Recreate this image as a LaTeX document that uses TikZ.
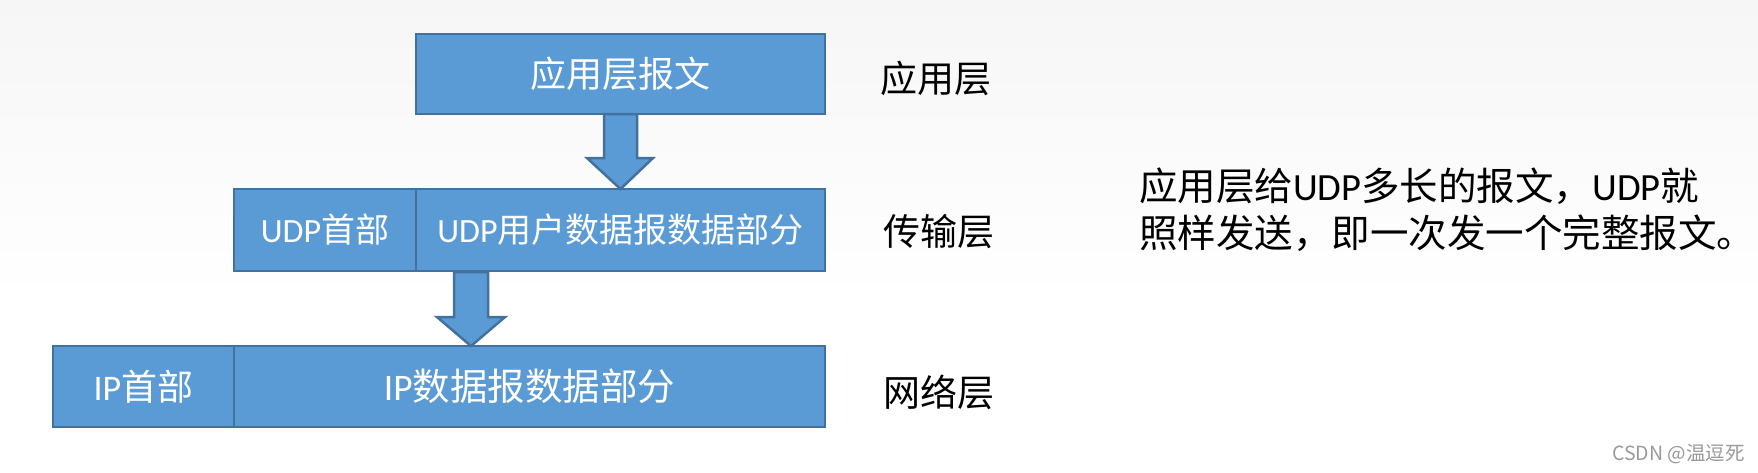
\documentclass[tikz,border=0pt]{standalone}
\usepackage{fontspec}
\setmainfont{Noto Sans CJK SC}
\newfontfamily\cjk{Noto Sans CJK SC}
\newfontfamily\lat{Carlito}
\usetikzlibrary{calc}
\definecolor{boxfill}{HTML}{5B9BD5}
\definecolor{boxline}{HTML}{41719C}
\definecolor{bgtop}{HTML}{F6F6F6}
\definecolor{wm}{HTML}{9A9A9A}
\tikzset{
  cell/.style={draw=boxline, fill=boxfill, line width=2.5pt, inner sep=0pt, outer sep=0pt,
    text=white, font=\fontsize{34}{40}\selectfont, anchor=center},
  blockarrow/.style={draw=boxline, fill=boxfill, line width=2.5pt, line join=miter},
  layerlabel/.style={font=\fontsize{37}{44}\selectfont, text=black, anchor=center, inner sep=0pt},
}
\begin{document}
\begin{tikzpicture}[x=1pt,y=-1pt]
\useasboundingbox (0,0) rectangle (1758,472);
\shade[top color=bgtop, bottom color=white] (0,0) rectangle (1758,300);
\fill[white] (0,300) rectangle (1758,472);

% boxes
\node[cell, minimum width=409pt, minimum height=80pt, font=\fontsize{36}{42}\selectfont] (app) at (620.5,74) {应用层报文};
\node[cell, minimum width=182pt, minimum height=82pt] (udph) at (325,230) {{\lat UDP}首部};
\node[cell, minimum width=409pt, minimum height=82pt] (udpd) at (620.5,230) {{\lat UDP}用户数据报数据部分};
\node[cell, minimum width=181pt, minimum height=81pt, font=\fontsize{36}{42}\selectfont] (iph) at (143.5,386.5) {{\lat IP}首部};
\node[cell, minimum width=591pt, minimum height=81pt, font=\fontsize{37.5}{43}\selectfont] (ipd) at (529.5,386.5) {{\lat IP}数据报数据部分};

% block arrows
\draw[blockarrow] ($(app.south)+(-16.5,0)$) -- ($(app.south)+(-16.5,44)$) -- ($(app.south)+(-33.5,44)$)
  -- (app.south |- udpd.north) -- ($(app.south)+(32.5,44)$) -- ($(app.south)+(16.5,44)$)
  -- ($(app.south)+(16.5,0)$) -- cycle;
\coordinate (a2) at ($(udpd.south west)+(55,1)$);
\draw[blockarrow] ($(a2)+(-17,0)$) -- ($(a2)+(-17,45)$) -- ($(a2)+(-34,45)$)
  -- (a2 |- ipd.north) -- ($(a2)+(34,45)$) -- ($(a2)+(17,45)$)
  -- ($(a2)+(17,0)$) -- cycle;

% layer labels
\node[layerlabel] (l1) at (936,78) {应用层};
\node[layerlabel] (l2) at (939,232) {传输层};
\node[layerlabel] (l3) at (939,392) {网络层};

% explanation
\node[anchor=west, inner sep=0pt, font=\fontsize{38.5}{47}\selectfont, align=left] (note) at (1139,209.5)
  {应用层给{\lat UDP}多长的报文，{\lat UDP}就\\照样发送，即一次发一个完整报文。};

% watermark
\node[anchor=east, inner sep=0pt, text=wm, font=\fontsize{19.5}{23}\selectfont] (wmk) at (1745,454) {CSDN @温逗死};
\end{tikzpicture}
\end{document}
